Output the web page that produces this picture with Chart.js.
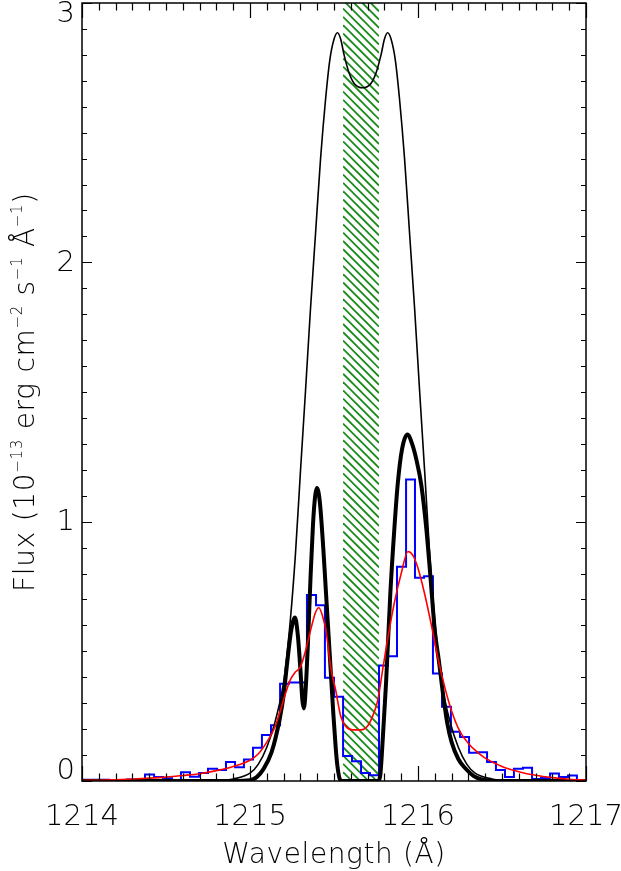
<!DOCTYPE html>
<html>
<head>
<meta charset="utf-8">
<script src="https://cdn.jsdelivr.net/npm/chart.js@4.4.1/dist/chart.umd.min.js"></script>
<style>
  html, body { margin: 0; padding: 0; background: #fff; }
  #wrap { width: 621px; height: 871px; position: relative; }
</style>
</head>
<body>
<div id="wrap"><canvas id="chartLya"></canvas></div>
<script>
// observed spectrum, histogram bins (left edges + final right edge)
const binEdges = [
  1214.000, 1214.054, 1214.107, 1214.161, 1214.214, 1214.268, 1214.321, 1214.375,
  1214.429, 1214.482, 1214.536, 1214.589, 1214.643, 1214.696, 1214.750, 1214.804,
  1214.857, 1214.911, 1214.964, 1215.018, 1215.071, 1215.125, 1215.179, 1215.232,
  1215.286, 1215.339, 1215.393, 1215.446, 1215.500, 1215.554, 1215.607, 1215.661,
  1215.714, 1215.768, 1215.821, 1215.875, 1215.929, 1215.982, 1216.036, 1216.089,
  1216.143, 1216.196, 1216.250, 1216.304, 1216.357, 1216.411, 1216.464, 1216.518,
  1216.571, 1216.625, 1216.679, 1216.732, 1216.786, 1216.839, 1216.893, 1216.946,
  1217.000
];
const obsFlux = [
  0.005, 0.005, 0.005, 0.001, 0.001, 0.006, 0.006, 0.025,
  0.015, 0.011, 0.004, 0.034, 0.016, 0.031, 0.047, 0.042,
  0.073, 0.053, 0.083, 0.128, 0.177, 0.215, 0.375, 0.380,
  0.380, 0.717, 0.678, 0.398, 0.325, 0.096, 0.076, 0.031,
  0.022, 0.445, 0.481, 0.826, 1.163, 0.784, 0.790, 0.415,
  0.286, 0.190, 0.170, 0.109, 0.111, 0.073, 0.042, 0.015,
  0.047, 0.051, 0.008, 0.012, 0.029, 0.015, 0.021, 0.002
];

// intrinsic profile (thin black)
const intrWave = [
  1214.00, 1214.60, 1214.80, 1214.90, 1215.00, 1215.05, 1215.10, 1215.15, 1215.20, 1215.24,
  1215.27, 1215.30, 1215.33, 1215.36, 1215.39, 1215.42, 1215.45, 1215.475, 1215.50, 1215.521,
  1215.54, 1215.56, 1215.59, 1215.62, 1215.67, 1215.72, 1215.75, 1215.78, 1215.80, 1215.819,
  1215.84, 1215.865, 1215.89, 1215.92, 1215.95, 1215.98, 1216.01, 1216.04, 1216.07, 1216.10,
  1216.14, 1216.19, 1216.24, 1216.29, 1216.34, 1216.44, 1216.54, 1216.74, 1217.00
];
const intrFlux = [
  0, 0, 0.002, 0.008, 0.03, 0.065, 0.13, 0.23, 0.38, 0.62,
  0.87, 1.19, 1.50, 1.82, 2.11, 2.40, 2.63, 2.78, 2.86, 2.885,
  2.86, 2.80, 2.73, 2.69, 2.673, 2.69, 2.73, 2.80, 2.86, 2.885,
  2.86, 2.78, 2.63, 2.40, 2.11, 1.82, 1.50, 1.19, 0.87, 0.62,
  0.38, 0.23, 0.13, 0.065, 0.03, 0.008, 0.002, 0, 0
];

// attenuated profile (thick black)
const attWave = [
  1214.00, 1214.90, 1215.00, 1215.04, 1215.078, 1215.128, 1215.177, 1215.20, 1215.222, 1215.245,
  1215.268, 1215.285, 1215.300, 1215.312, 1215.321, 1215.332, 1215.346, 1215.36, 1215.375, 1215.388,
  1215.398, 1215.415, 1215.436, 1215.451, 1215.466, 1215.481, 1215.496, 1215.51, 1215.52, 1215.536,
  1215.55, 1215.76, 1215.775, 1215.79, 1215.81, 1215.835, 1215.86, 1215.88, 1215.905, 1215.937,
  1215.965, 1215.99, 1216.02, 1216.05, 1216.075, 1216.10, 1216.125, 1216.15, 1216.175, 1216.20,
  1216.24, 1216.28, 1216.33, 1216.38, 1216.45, 1217.00
];
const attFlux = [
  0, 0, 0.003, 0.015, 0.044, 0.11, 0.24, 0.33, 0.46, 0.58,
  0.63, 0.56, 0.43, 0.31, 0.28, 0.36, 0.55, 0.78, 0.99, 1.10,
  1.13, 1.08, 0.90, 0.74, 0.58, 0.42, 0.26, 0.13, 0.06, 0.005,
  0, 0, 0.02, 0.16, 0.38, 0.72, 0.98, 1.15, 1.28, 1.336,
  1.30, 1.24, 1.14, 0.97, 0.78, 0.58, 0.46, 0.33, 0.22, 0.15,
  0.085, 0.05, 0.02, 0.006, 0, 0
];

// convolved model (red)
const convWave = [
  1214.00, 1214.10, 1214.20, 1214.30, 1214.40, 1214.50, 1214.60, 1214.70, 1214.80, 1214.90,
  1215.00, 1215.05, 1215.10, 1215.15, 1215.18, 1215.21, 1215.24, 1215.27, 1215.30, 1215.33,
  1215.36, 1215.39, 1215.41, 1215.43, 1215.455, 1215.48, 1215.51, 1215.54, 1215.57, 1215.61,
  1215.66, 1215.70, 1215.73, 1215.76, 1215.79, 1215.82, 1215.86, 1215.90, 1215.94, 1215.97,
  1216.00, 1216.04, 1216.08, 1216.12, 1216.16, 1216.20, 1216.25, 1216.30, 1216.35, 1216.40,
  1216.50, 1216.60, 1216.70, 1216.80, 1216.90, 1217.00
];
const convFlux = [
  0.002, 0.003, 0.005, 0.008, 0.011, 0.015, 0.021, 0.028, 0.040, 0.056,
  0.080, 0.105, 0.150, 0.210, 0.270, 0.335, 0.390, 0.420, 0.440, 0.500,
  0.580, 0.650, 0.668, 0.640, 0.570, 0.440, 0.350, 0.250, 0.210, 0.197,
  0.197, 0.212, 0.250, 0.310, 0.430, 0.550, 0.690, 0.800, 0.885, 0.870,
  0.820, 0.720, 0.600, 0.470, 0.360, 0.270, 0.190, 0.145, 0.113, 0.088,
  0.056, 0.036, 0.022, 0.013, 0.007, 0.003
];

// masked region (geocoronal), axis ticks
const maskRange = [1215.554, 1215.768];
const xMajor = [1214, 1215, 1216, 1217];
const yMajor = [0, 1, 2, 3];
const xMinorStep = 0.1;
const yMinorStep = 0.1;

const pts = (xs, ys) => xs.map((x, i) => ({ x, y: ys[i] }));
const histPts = binEdges.map((x, i) => ({ x, y: obsFlux[Math.min(i, obsFlux.length - 1)] }));

const FONT = "'DejaVu Sans', sans-serif";

const hatchPlugin = {
  id: "hatch",
  beforeDatasetsDraw(chart) {
    const { ctx, chartArea: a, scales: { x } } = chart;
    const x0 = x.getPixelForValue(maskRange[0]);
    const x1 = x.getPixelForValue(maskRange[1]);
    const w = x1 - x0;
    ctx.save();
    ctx.beginPath();
    ctx.rect(x0, a.top, w, a.bottom - a.top);
    ctx.clip();
    ctx.strokeStyle = "#1a8a1a";
    ctx.lineWidth = 1.8;
    for (let c = a.top - w; c < a.bottom + 2; c += 8.3) {
      ctx.beginPath();
      ctx.moveTo(x0, c);
      ctx.lineTo(x1, c + w);
      ctx.stroke();
    }
    ctx.restore();
  },
};

const framePlugin = {
  id: "frame",
  afterDraw(chart) {
    const { ctx, chartArea: a, scales: { x, y } } = chart;
    ctx.save();
    ctx.strokeStyle = "#000";
    ctx.fillStyle = "#000";

    // ticks (inside, all four sides)
    ctx.lineWidth = 1.2;
    ctx.beginPath();
    const nx = Math.round((x.max - x.min) / xMinorStep);
    for (let i = 0; i <= nx; i++) {
      const v = x.min + i * xMinorStep;
      const px = Math.round(x.getPixelForValue(v)) + 0.5;
      const major = xMajor.some((m) => Math.abs(m - v) < 1e-6);
      const len = major ? 15 : 7.5;
      ctx.moveTo(px, a.bottom); ctx.lineTo(px, a.bottom - len);
      ctx.moveTo(px, a.top); ctx.lineTo(px, a.top + len);
    }
    const ny = Math.round((y.max - y.min) / yMinorStep);
    for (let i = 0; i <= ny; i++) {
      const v = y.min + i * yMinorStep;
      const py = Math.round(y.getPixelForValue(v)) + 0.5;
      const major = yMajor.some((m) => Math.abs(m - v) < 1e-6);
      const len = major ? 10 : 5;
      ctx.moveTo(a.left, py); ctx.lineTo(a.left + len, py);
      ctx.moveTo(a.right, py); ctx.lineTo(a.right - len, py);
    }
    ctx.stroke();

    // box
    ctx.lineWidth = 1.5;
    ctx.strokeRect(a.left, a.top, a.right - a.left, a.bottom - a.top);

    // x tick labels
    ctx.font = "200 29px " + FONT;
    ctx.textAlign = "center";
    ctx.textBaseline = "alphabetic";
    xMajor.forEach((v) => ctx.fillText(String(v), x.getPixelForValue(v), 825));

    // y tick labels, kept inside the box vertically
    ctx.textAlign = "right";
    ctx.textBaseline = "middle";
    const h = 21;
    yMajor.forEach((v) => {
      let py = y.getPixelForValue(v);
      py = Math.max(a.top + h / 2, Math.min(a.bottom - h / 2, py));
      ctx.fillText(String(v), a.left - 7, py + 1);
    });

    // x title
    ctx.letterSpacing = "0.6px";
    ctx.font = "200 28px " + FONT;
    ctx.textAlign = "center";
    ctx.textBaseline = "alphabetic";
    ctx.fillText("Wavelength (Å)", (a.left + a.right) / 2, 863);

    // y title with superscripts
    ctx.letterSpacing = "0.7px";
    const segs = [
      { t: "Flux (10", s: false }, { t: "−13", s: true },
      { t: " erg cm", s: false }, { t: "−2", s: true },
      { t: " s", s: false }, { t: "−1", s: true },
      { t: " Å", s: false }, { t: "−1", s: true },
      { t: ")", s: false },
    ];
    const mainF = "200 28px " + FONT, supF = "200 15px " + FONT;
    let total = 0;
    segs.forEach((sg) => { ctx.font = sg.s ? supF : mainF; sg.w = ctx.measureText(sg.t).width; total += sg.w; });
    ctx.translate(34, (a.top + a.bottom) / 2);
    ctx.rotate(-Math.PI / 2);
    ctx.textAlign = "left";
    let cx = -total / 2;
    segs.forEach((sg) => {
      ctx.font = sg.s ? supF : mainF;
      ctx.fillText(sg.t, cx, sg.s ? -12 : 0);
      cx += sg.w;
    });
    ctx.restore();
  },
};

new Chart(document.getElementById("chartLya"), {
  type: "line",
  data: {
    datasets: [
      {
        label: "Convolved model",
        data: pts(convWave, convFlux),
        borderColor: "#ff0000",
        borderWidth: 1.6,
        cubicInterpolationMode: "monotone",
        order: 0,
      },
      {
        label: "Attenuated profile",
        data: pts(attWave, attFlux),
        borderColor: "#000000",
        borderWidth: 4,
        cubicInterpolationMode: "monotone",
        order: 1,
      },
      {
        label: "Intrinsic profile",
        data: pts(intrWave, intrFlux),
        borderColor: "#000000",
        borderWidth: 1.6,
        cubicInterpolationMode: "monotone",
        order: 2,
      },
      {
        label: "Observed",
        data: histPts,
        borderColor: "#0000ff",
        borderWidth: 2,
        stepped: true,
        order: 3,
      },
    ],
  },
  options: {
    responsive: true,
    maintainAspectRatio: false,
    animation: false,
    layout: { padding: { left: 82, top: 3, right: 35, bottom: 90 } },
    elements: { point: { radius: 0 } },
    plugins: { legend: { display: false }, tooltip: { enabled: false } },
    scales: {
      x: { type: "linear", min: 1214, max: 1217, display: false },
      y: { type: "linear", min: 0, max: 3, display: false },
    },
  },
  plugins: [hatchPlugin, framePlugin],
});
</script>
</body>
</html>
